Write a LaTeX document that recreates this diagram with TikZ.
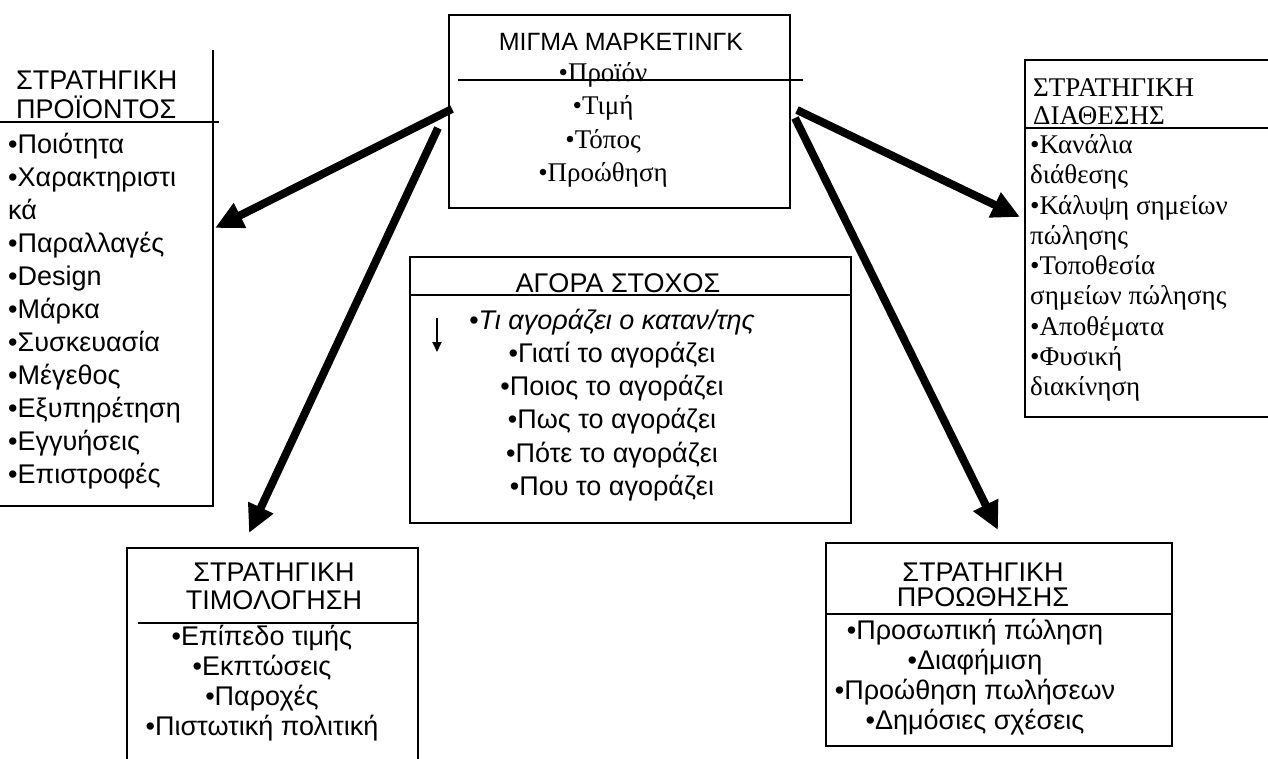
\documentclass[tikz,border=0pt]{standalone}
\usepackage{fontspec}
\setmainfont{Liberation Serif}
\setsansfont{Liberation Sans}
\usetikzlibrary{arrows.meta}

\begin{document}
\begin{tikzpicture}[
  x=1pt, y=-1pt,
  frame/.style={draw, line width=1.6pt, inner sep=0pt},
  rule/.style={line width=1.4pt},
  head/.style={font=\sffamily\fontsize{27}{28}\selectfont, align=center, inner sep=0pt},
  items/.style={font=\sffamily\fontsize{27}{33}\selectfont, align=center, inner sep=0pt},
  arr/.style={-{Triangle[length=28pt,width=26pt]}, line width=8pt}
]
\useasboundingbox (0,0) rectangle (1268,759);

% boxes
\node[frame, minimum width=341pt, minimum height=193pt] (mix) at (619.5,111.5) {};
\node[inner sep=0pt, minimum width=218pt, minimum height=456pt] (product) at (104,278) {};
\draw[line width=1.6pt] (product.north east) -- (product.south east) -- (product.south west);
\node[frame, minimum width=255pt, minimum height=357pt] (place) at (1152.5,238.5) {};
\node[frame, minimum width=441pt, minimum height=266pt] (target) at (630.5,390) {};
\node[frame, minimum width=291pt, minimum height=227pt] (price) at (272.5,661.5) {};
\node[frame, minimum width=346pt, minimum height=203pt] (promo) at (999,644.5) {};

% header rules
\draw[rule] (458,80) -- (803,80);
\draw[rule] (-5,122) -- (219,122);
\draw[rule] (1025,128) -- (1280,128);
\draw[rule] (410,295) -- (851,295);
\draw[rule] (138,623) -- (418,623);
\draw[rule] (826,614) -- (1172,614);

% texts
\node[head, font=\sffamily\fontsize{25}{27}\selectfont] (mixhead) at (621,42) {ΜΙΓΜΑ ΜΑΡΚΕΤΙΝΓΚ};
\node[items, font=\rmfamily\fontsize{27}{33.3}\selectfont] (mixlist) at (603,125)
  {•Προϊόν\\•Τιμή\\•Τόπος\\•Προώθηση};

\node[head, font=\sffamily\fontsize{27}{29}\selectfont, align=left, anchor=west] (prodhead) at (16,95) {ΣΤΡΑΤΗΓΙΚΗ\\ΠΡΟΪΟΝΤΟΣ};
\node[items, font=\sffamily\fontsize{27}{33}\selectfont, align=left, anchor=west] (prodlist) at (8,311)
  {•Ποιότητα\\•Χαρακτηριστι\\κά\\•Παραλλαγές\\•Design\\•Μάρκα\\•Συσκευασία\\•Μέγεθος\\•Εξυπηρέτηση\\•Εγγυήσεις\\•Επιστροφές};

\node[head, font=\rmfamily\fontsize{27}{28}\selectfont, align=left, anchor=west] (placehead) at (1033,102) {ΣΤΡΑΤΗΓΙΚΗ\\ΔΙΑΘΕΣΗΣ};
\node[items, font=\rmfamily\fontsize{27}{30.3}\selectfont, align=left, anchor=west] (placelist) at (1030,268)
  {•Κανάλια\\διάθεσης\\•Κάλυψη σημείων\\πώλησης\\•Τοποθεσία\\σημείων πώλησης\\•Αποθέματα\\•Φυσική\\διακίνηση};

\node[head] (targethead) at (618,283) {ΑΓΟΡΑ ΣΤΟΧΟΣ};
\node[items, font=\sffamily\fontsize{27}{33.2}\selectfont] (targetlist) at (612,405)
  {\textit{•Τι αγοράζει ο καταν/της}\\•Γιατί το αγοράζει\\•Ποιος το αγοράζει\\•Πως το αγοράζει\\•Πότε το αγοράζει\\•Που το αγοράζει};

\node[head] (pricehead) at (274,586.5) {ΣΤΡΑΤΗΓΙΚΗ\\ΤΙΜΟΛΟΓΗΣΗ};
\node[items, font=\sffamily\fontsize{27}{30}\selectfont] (pricelist) at (262,683)
  {•Επίπεδο τιμής\\•Εκπτώσεις\\•Παροχές\\•Πιστωτική πολιτική};

\node[head, font=\sffamily\fontsize{27}{25}\selectfont] (promohead) at (983,584.5) {ΣΤΡΑΤΗΓΙΚΗ\\ΠΡΟΩΘΗΣΗΣ};
\node[items, font=\sffamily\fontsize{27}{30}\selectfont] (promolist) at (975,677)
  {•Προσωπική πώληση\\•Διαφήμιση\\•Προώθηση πωλήσεων\\•Δημόσιες σχέσεις};

% arrows
\coordinate (mixL1) at (452,109);
\coordinate (mixL2) at (438,128);
\coordinate (mixR1) at (797,110);
\coordinate (mixR2) at (795,118);
\coordinate (prodin) at (215,228);
\coordinate (pricein) at (249,533);
\coordinate (placein) at (1020,217);
\coordinate (promoin) at (998,530);
\draw[arr] (mixL1) -- (prodin);
\draw[arr] (mixL2) -- (pricein);
\draw[arr] (mixR1) -- (placein);
\draw[arr] (mixR2) -- (promoin);

\coordinate (downtop) at (437,318);
\coordinate (downend) at (437,352);
\draw[-{Triangle[length=10pt,width=9pt]}, line width=2pt] (downtop) -- (downend);
\end{tikzpicture}
\end{document}
